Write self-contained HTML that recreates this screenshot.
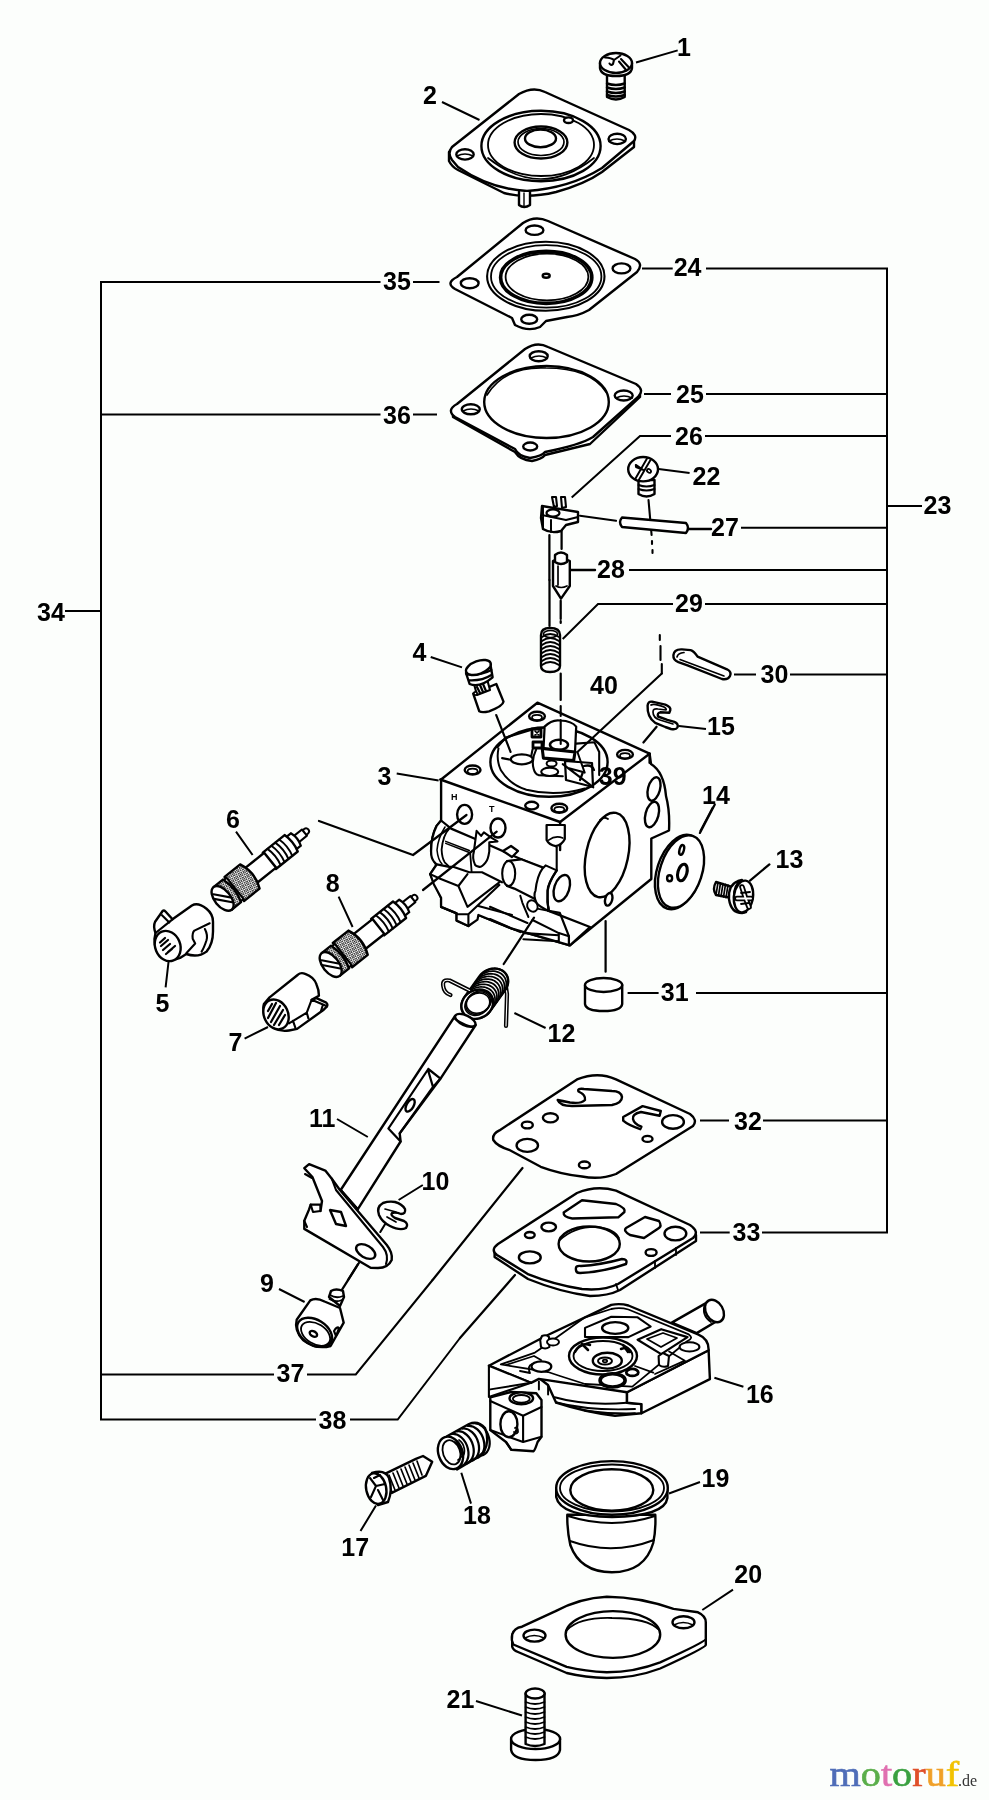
<!DOCTYPE html>
<html><head><meta charset="utf-8"><style>
html,body{margin:0;padding:0;background:#fcfefc;}
svg{display:block;}
svg{will-change:transform;}
.lb text{font-family:"Liberation Sans",sans-serif;font-weight:bold;font-size:25px;text-anchor:middle;fill:#000;}
</style></head><body>
<svg width="989" height="1800" viewBox="0 0 989 1800">
<g fill="none" stroke="#000" stroke-width="2" stroke-linecap="butt">
<!-- right bracket 23 -->
<path d="M706 268.5H887V1232.5H762 M922 506H887 M706 394H887 M705 436H887 M741 527.7H887 M629 570H887 M705 604H887 M790 674.4H887 M696 993H887 M763 1120.5H887"/>
<!-- left bracket 34 -->
<path d="M380.5 282H101V1419.5H316 M65 611H101 M101 414.4H380.5 M101 1374.4H274"/>
<!-- short lines near labels -->
<path d="M642 268.5H672.7 M644 394H671 M671 436H640L571.7 497.5 M580 570H594.5 M673 604H598L562.7 639 M734 674.4H756 M627.6 993H658.6 M700 1120.5H729 M700 1232.5H729.7 M413 282H439.5 M413 414.4H437 M307 1374.4H355.8L432.6 1280 M350 1419.5H397.7L460 1338"/>
<!-- leaders -->
<path d="M636 62.5L677.7 50.4 M442 102L479.5 120 M658.6 469L689.6 473 M679 726L706 729 M713 807L700 831.6 M714.4 1377.7L743.4 1386.8 M669 1493.5L700 1482 M360.5 1531L376 1505.6 M279 1289L304.6 1302 M430.7 657L462 667.4 M396.7 773.5L438.6 780.5 M236 831.6L252.6 855 M338.6 896.7L352.6 927 M165.6 987.4L168.8 959.5 M244.6 1038.6L268 1027 M514.4 1013L545.6 1028 M337 1119L367.8 1137 M398.6 1200L422.8 1185 M461.3 1472.8L471 1503.6 M476 1701L522 1715.5 M702.3 1610L733 1589.7"/>

</g>
<g stroke="#000" stroke-width="2.4" stroke-linejoin="round" stroke-linecap="round" fill="#fff">

<g>
<path d="M607 72V97Q616 102 624.7 97V72Z"/>
<path d="M607 83.5Q616 86.5 624.7 83.5M607 87.5Q616 90.5 624.7 87.5M607 91.5Q616 94.5 624.7 91.5M607 95Q616 98 624.7 95" fill="none"/>
<path d="M600 63V68Q601 76 616 76Q631 76 632 68V63Z"/>
<ellipse cx="616" cy="63" rx="16" ry="10"/>
<path d="M605 57.5Q612 58 614 60L620.5 55.5M614 60L613 64Q611 66 609.5 63.5M621 59L629 67.5M619 61.5L626.5 70.5" fill="none" stroke-width="2.10"/>
</g>

<g>
<path d="M449 152V161Q452 167 458 170L504 193Q527 199 556 192Q585 184 602 172L634 147V139Z"/>
<path d="M452 147L519 94Q533 86 545 92L629 130Q638 135 634 141L602 168Q570 188 527 191Q490 189 458 167L452 160Q447 153 452 147Z"/>
<ellipse cx="465" cy="154.4" rx="8.7" ry="5.2"/>
<path d="M457 156Q465 152 473 156" fill="none" stroke-width="1.68"/>
<ellipse cx="617.2" cy="138.9" rx="8.7" ry="5.2"/>
<path d="M609 141Q617 137 625 141" fill="none" stroke-width="1.68"/>
<ellipse cx="541" cy="146" rx="59.6" ry="35.2"/>
<ellipse cx="541" cy="145" rx="53" ry="31" fill="none" stroke-width="1.82"/>
<path d="M488 158Q541 200 594 158" fill="none" stroke-width="1.68"/>
<ellipse cx="541" cy="142.5" rx="26.4" ry="16"/>
<ellipse cx="541" cy="142" rx="23" ry="13.5" fill="none" stroke-width="1.68"/>
<ellipse cx="540.5" cy="138.4" rx="15.5" ry="8.8"/>
<ellipse cx="568.5" cy="120.2" rx="4.5" ry="2.8"/>
<path d="M519 192V205Q524 209 530 205V192" />
<path d="M524 193V207" fill="none" stroke-width="1.40"/>
</g>

<g>
<path d="M457 277L523 223Q535 215 548 221L635 259Q644 264 637 272L589 310Q578 316 567 317L546 321L540 327Q528 332 515 325L512 318L455 289Q445 283 457 277Z"/>
<ellipse cx="534.5" cy="230.2" rx="8.9" ry="4.7"/>
<ellipse cx="621.5" cy="268.4" rx="8.9" ry="5"/>
<ellipse cx="469.7" cy="283.2" rx="8.9" ry="5"/>
<ellipse cx="529.2" cy="319.3" rx="8" ry="4.5"/>
<ellipse cx="545.8" cy="276.3" rx="58.7" ry="34.5" stroke-width="2.10"/>
<ellipse cx="546.2" cy="276.4" rx="55.2" ry="31.3" stroke-width="1.82"/>
<ellipse cx="546.2" cy="277.4" rx="45.6" ry="26" stroke-width="3.64"/>
<ellipse cx="547" cy="277" rx="41.4" ry="23.4" stroke-width="1.82"/>
<ellipse cx="546.2" cy="275.8" rx="3.5" ry="2"/>
</g>

<g>
<path d="M453 411V417L515 452Q520 460 532 461Q542 459 545 455L590 444L640 397V390Z"/>
<path d="M457 404L525 349Q537 341 548 347L636 384Q645 390 638 397L593 437Q580 445 545 452Q542 456 530 458Q518 456 515 449L455 417Q446 410 457 404Z"/>
<ellipse cx="538.7" cy="356.2" rx="9" ry="5"/><path d="M531 358Q539 354 547 358" fill="none" stroke-width="1.68"/>
<ellipse cx="623.7" cy="395.5" rx="9" ry="5"/><path d="M616 398Q624 394 632 398" fill="none" stroke-width="1.68"/>
<ellipse cx="470.8" cy="409.3" rx="9" ry="5"/><path d="M463 411Q471 407 479 411" fill="none" stroke-width="1.68"/>
<ellipse cx="530.2" cy="446.5" rx="7" ry="4"/>
<ellipse cx="546.5" cy="402" rx="62.3" ry="36"/>
<path d="M487 395Q505 366 546 368Q590 368 606 392" fill="none" stroke-width="1.68"/>
</g>


<g>
<path d="M638.5 480V494Q646.5 499 654.5 494V480Z"/>
<path d="M638.5 485Q646.5 488 654.5 485M638.5 489Q646.5 492 654.5 489" fill="none" stroke-width="1.96"/>
<ellipse cx="643.1" cy="469.2" rx="14.9" ry="12.2"/>
<path d="M647 458.5L635.5 478.5M650.5 460L638.5 480.5M635.8 464.9L643 469.8L636 467Z" fill="none" stroke-width="1.96"/>
<ellipse cx="649" cy="470.9" rx="2.2" ry="1.6" transform="rotate(40 649 470.9)" stroke-width="1.82"/>
<path d="M648.5 500L651.6 535M652 541V544M652.5 550V553" fill="none" stroke-width="2.10"/>
</g>

<g>
<path d="M580 515.7L616 520.8" fill="none" stroke-width="2.10"/>
<path d="M622 517.5L686 523Q690 528 686 533L622 527Q618 522 622 517.5Z"/>
<path d="M688 529H711" fill="none"/>
</g>

<g>
<path d="M549.4 535V580M561.6 526.8V549" fill="none" stroke-width="2.24"/>
<path d="M552 497L556 497L557 506L554 507ZM561 497L565 497L566 507L562 508Z" stroke-width="2.10"/>
<path d="M542 506L578 512V522L566 525L561 531Q551 534 543 529L541 518Z"/>
<path d="M543 506V528M542 515L566 520L578 517M551 520V532" fill="none" stroke-width="1.96"/>
<ellipse cx="553" cy="513" rx="6.5" ry="3.6" stroke-width="2.24"/>

</g>

<g>
<path d="M553 561V586L561 598.6L569.8 586V561Q561 556 553 561Z"/>
<path d="M555 555Q561 550 567 555V562Q561 566 555 562Z"/>
<path d="M556 586Q561 589 567 586M558 566V585" fill="none" stroke-width="1.68"/>
<path d="M570.8 570H595" fill="none"/>
</g>

<path d="M560.7 600.7V618.9M560.7 621V623M560.7 673.5V700M549.5 580V626" fill="none" stroke-width="2.24"/>

<g>
<path d="M541 635Q541 628 550 628Q560 628 560 635V666Q560 672 550 672Q541 672 541 666Z"/>
<path d="M542 637Q550 631 559 637M542 641Q550 635 559 641M542 645Q550 639 559 645M542 649Q550 643 559 649M542 653Q550 647 559 653M542 657Q550 651 559 657M542 661Q550 655 559 661M542 665Q550 659 559 665" fill="none" stroke-width="1.82"/>
<ellipse cx="550.5" cy="634" rx="7" ry="3.5" fill="none" stroke-width="1.68"/>

</g>

<g>
<path d="M659.8 635V640M660.5 646V660M661.8 664V673.5" fill="none" stroke-width="2.10"/>
<path d="M673.4 655.2Q674 649 682 649.4L690.6 650.1Q694 651 697.6 656.7L727 669.3Q732 672 730 676Q728 680 722 679L687.5 665.3L678.4 662.2Q673 660 673.4 655.2Z"/>
<path d="M680 659.5L724 676M677 657Q678 653 684 652.5" fill="none" stroke-width="1.68"/>
</g>

<g>
<path d="M647.6 705.7Q648 701 652.1 701.7L665.3 704.7Q671 707 670.3 710L669.3 712.8L660.2 712.3Q657 713 658 716.5L667.3 719.9L674.4 721.9Q679 724 677.4 727.5Q676 730 671 729L665.3 727L655.2 722.9Q647 717 647.6 705.7Z"/>
<path d="M651 705Q654 703 664 707Q667 709 666 710L658 709Q653 708 653 712Q653 718 660 720L673 724" fill="none" stroke-width="1.68"/>
<path d="M656.6 726.8L643.4 742.5" fill="none" stroke-width="2.24"/>
</g>

<g>
<path d="M473.2 693.7L496.3 684L503.5 701.6Q503 706 489 711.3Q482 713 479.3 711.3Z"/>
<path d="M474 684L487 679L490 690L477 695Z" stroke-width="2.10"/>
<path d="M477 687L480 693M480 685L483 692M483 684L486 691" fill="none" stroke-width="2.24"/>
<circle cx="475.5" cy="693.5" r="1.6" stroke-width="1.68"/>
<path d="M466 673L469.6 684Q480 688 492.6 677.3L490.2 663.3Z"/>
<path d="M466.5 674.3Q480 676 491.4 670M469 680.3Q482 681 491.4 675" fill="none" stroke-width="2.24"/>
<ellipse cx="478.4" cy="667.5" rx="13" ry="6.5" transform="rotate(-20 478.4 667.5)"/>
</g>


<g>

<path d="M537.4 702.7L649.6 753.7L651 764Q664 772 666 796Q670 811 669 830.5L651.3 838.5V879L569.9 945.3L512 928.7L478.4 915L468.4 926L456.6 920.6V913.3L441.1 906.9V897.8L430.2 874.1L436.6 864.6Q431 855 431.1 851.4Q431 837 436.6 825.9L441.1 820.5V779.5Z"/>

<path d="M440.3 779.5L560.1 822L649.6 753.7" fill="none"/>
<path d="M560.1 822V850" fill="none"/>

<ellipse cx="537" cy="716.2" rx="7.9" ry="4.5"/><ellipse cx="537" cy="717.5" rx="5" ry="2.6" fill="none" stroke-width="1.68"/>
<ellipse cx="472.6" cy="770" rx="7.9" ry="4.5"/><ellipse cx="472.6" cy="771.3" rx="5" ry="2.6" fill="none" stroke-width="1.68"/>
<ellipse cx="625" cy="754.4" rx="7.9" ry="4.5"/><ellipse cx="625" cy="755.7" rx="5" ry="2.6" fill="none" stroke-width="1.68"/>
<ellipse cx="531.7" cy="805.6" rx="6.5" ry="3.8"/>
<ellipse cx="559.3" cy="808.2" rx="7.9" ry="4.5"/><ellipse cx="559.3" cy="809.5" rx="5" ry="2.6" fill="none" stroke-width="1.68"/>

<ellipse cx="549" cy="762" rx="58.6" ry="34.8"/>
<path d="M498.5 748.4Q496 760 500.9 770.3Q510 785 526.4 789.7Q555 797 584.7 788.5" fill="none" stroke-width="1.96"/>
<path d="M497.3 747.2L505.8 737.5L530 730.2M502.1 758.1L514.3 760.5L531.3 755.7L532.5 749.6" fill="none" stroke-width="2.10"/>
<ellipse cx="521.8" cy="759.3" rx="11" ry="5" stroke-width="2.24"/>
<path d="M543.4 750.8L544.6 726.6Q552 719 560.4 720.5Q572 721 576.2 726.6L575 752Z" stroke-width="2.24"/>
<ellipse cx="559" cy="744.8" rx="9" ry="5" stroke-width="2.52"/>
<path d="M536.1 749.6Q531 760 533.7 769Q535 774 538.5 775.1L562.8 776.3" fill="none" stroke-width="2.10"/>
<path d="M542.2 748.4L575 752L573.7 760.5L543.4 758.1Z" stroke-width="3.08"/>
<ellipse cx="549.7" cy="771.8" rx="8.5" ry="4.2" stroke-width="2.10"/>
<ellipse cx="551.6" cy="763.5" rx="5" ry="3" stroke-width="1.96"/>
<path d="M576.2 743.6L594.4 742.3L599.2 752V775.1" fill="none" stroke-width="2.10"/>
<path d="M565 761L592 763L593 787L566 780Z" stroke-width="2.24"/>
<path d="M562.8 764.2L593.2 787.2M568 768L583 772L580 780M584 766Q592 764 594 770" fill="none" stroke-width="2.24"/>
<path d="M577.4 752L584.7 772.7" fill="none" stroke-width="1.96"/>
<path d="M532 729H541V737H532ZM533 742H542V748H533Z" stroke-width="2.80"/>
<path d="M535 731L539 735M535 735L539 731" fill="none" stroke-width="1.68"/>

<text x="451" y="800" font-family="Liberation Sans" font-weight="bold" font-size="9" stroke="none" fill="#000">H</text>
<text x="489" y="812" font-family="Liberation Sans" font-weight="bold" font-size="9" stroke="none" fill="#000">T</text>
<ellipse cx="464.6" cy="814.4" rx="7.5" ry="9.5"/>
<ellipse cx="498" cy="828" rx="7.5" ry="9.5"/>


<ellipse cx="607.1" cy="855" rx="21" ry="43" transform="rotate(12 607.1 855)"/>
<path d="M600 820Q604 816 608 819" fill="none" stroke-width="1.82"/>
<ellipse cx="608.7" cy="899.3" rx="3.5" ry="6.5" transform="rotate(15 608.7 899.3)"/>
<ellipse cx="654" cy="789" rx="6" ry="12" transform="rotate(15 654 789)"/>
<ellipse cx="652" cy="814.5" rx="6.5" ry="13" transform="rotate(15 652 814.5)"/>
<path d="M649.6 753.7V762.8" fill="none"/>

<path d="M441.1 820.5L436.6 825.9Q431 837 431.1 851.4Q431 858 433.8 861.4L436.6 864.6L430.2 874.1L433.8 884.2L441.1 897.8V906.9L456.6 913.3V920.6L468.4 926L477.5 919.6L478.4 915L512 928.7L569.9 945.3L590 927L548.6 910.9L542.6 868.4L521.3 859.3L476.6 839.6L451.1 828.6Z" stroke-width="2.24"/>
<path d="M449.3 828.6Q443 835 441.6 849.6Q442 858 444.7 862.3L448.4 866" fill="none" stroke-width="1.82"/>
<path d="M445 827Q438 838 437 850Q438 860 442 864" fill="none" stroke-width="1.54"/>
<path d="M445.7 841.4L469.3 850.5M445.7 843.4L469.3 852.5" fill="none" stroke-width="1.54"/>
<path d="M435.6 864.1L449.3 866.9L453.8 866.9L469.3 872.3L482 872.3L502 882.3" fill="none" stroke-width="2.10"/>

<path d="M430.2 874.1L440.2 878.7L458.4 886L467.5 874.1M458.4 886L467.5 906.9L499.3 882.3M441.1 906.9L456.6 913.3M456.6 914.2L468.4 914.2L499.3 885M468.4 914.2V925M478.4 906L512 915" fill="none" stroke-width="2.10"/>

<path d="M507 861L521.3 859.3L542.6 867.4L548.6 910.9L534.5 898.8L514.3 888.6L507 886Z" stroke-width="2.24"/>
<ellipse cx="508.7" cy="873.5" rx="6.5" ry="12.5" stroke-width="2.10"/>

<path d="M476.6 830.9L481.1 835.9L483.9 832.3L491.2 837.7L497.5 841.4L489.3 842.3V851.4Q488 860 485.7 862.3Q482 867 479.3 866.9Q475 866 474.8 864.1Q472 858 473.9 851.4Z" stroke-width="2.10"/>
<path d="M470.2 853.2L471.6 871.4" fill="none" stroke-width="1.82"/>
<path d="M503 851L511 846L518 851L512 857Z" stroke-width="2.24"/>

<path d="M542.6 868.4L545.6 865.4L556.7 870.4Q547 885 547.6 890.7Q547 902 548.6 910.9Q538 906 536.5 902.8Q533 895 535.5 890.7Q537 876 542.6 868.4Z" stroke-width="2.10"/>
<path d="M556.7 870.4Q549 882 547.6 890.7Q547 902 548.6 910.9L559.8 912.9L568.9 936.2V945.3" fill="none" stroke-width="2.24"/>
<ellipse cx="561.8" cy="888.1" rx="7.5" ry="13.6" transform="rotate(18 561.8 888.1)"/>
<path d="M520.3 895.7L522.4 902.8L528.4 917M538.5 908.9L548.6 910.9" fill="none" stroke-width="1.96"/>
<ellipse cx="532.4" cy="906" rx="5" ry="6" transform="rotate(-30 532.4 906)" stroke-width="1.96"/>
<path d="M490 906.8L527.4 923M490 919L520.3 932.1M524.4 933.1L558.8 935.2M523.4 939.2L558.8 941.2M558.8 933V941.2M532.5 920L558.8 933.1L568.9 936.2" fill="none" stroke-width="2.10"/>

<path d="M546.6 825V840.1Q549 845 555.7 846.2Q562 845 564.8 839.1V825Z" stroke-width="2.24"/>
<path d="M548.6 840.1Q555.7 835 562.8 838.1" fill="none" stroke-width="1.68"/>
<path d="M556.7 847.2V870.4" fill="none" stroke-width="2.10"/>
</g>


<path d="M496.2 715L510.6 752" fill="none" stroke-width="2.10"/>
<path d="M661.8 673.5L577.4 752M560.7 706V716M560.7 720V744" fill="none" stroke-width="2.10"/>
<path d="M605.6 921V971.7" fill="none" stroke-width="2.24"/>

<g>
<ellipse cx="679" cy="872" rx="22" ry="38.5" transform="rotate(18 679 872)"/>
<ellipse cx="681" cy="871.5" rx="21" ry="37.5" transform="rotate(18 681 871.5)"/>
<ellipse cx="681.7" cy="849.9" rx="2.2" ry="5" transform="rotate(15 681.7 849.9)"/>
<ellipse cx="682.4" cy="872.5" rx="4.5" ry="8.5" transform="rotate(15 682.4 872.5)" stroke-width="3.08"/>
<ellipse cx="669.6" cy="878.2" rx="2.5" ry="3"/>
<path d="M714.8 804.6L699.9 832.9" fill="none" stroke-width="2.24"/>
</g>

<g>
<path d="M716 882L732 887L732 898L716 895Q712 889 716 882Z"/>
<path d="M718 882.5L716 895M720.5 883L718.5 895.5M723 883.7L721 896.3M725.5 884.3L723.5 897M728 885L726 897.6" fill="none" stroke-width="1.68"/>
<path d="M738 881Q728 885 729 899Q731 913 742 913L746 912Q735 910 734 897Q734 884 742 880Z"/>
<ellipse cx="743.5" cy="896.5" rx="9.5" ry="16" transform="rotate(8 743.5 896.5)"/>
<path d="M742 887L745.5 898L749 907M737 898.5H751" fill="none" stroke-width="5.60"/><path d="M742 887L745.5 898L749 907M737 898.5H751" fill="none" stroke="#fff" stroke-width="1.96"/><path d="M741 893L750 892M741 904L749 903" fill="none" stroke-width="1.82"/>
<path d="M750 880.6L769.4 864.4" fill="none" stroke-width="2.24"/>
</g>

<g>
<path d="M585 985V1004Q586 1011 603.6 1011Q621 1011 622.2 1004V985Z"/>
<ellipse cx="603.6" cy="985" rx="18.6" ry="7"/>
</g>

<defs>
<pattern id="knurl" width="2.6" height="2.6" patternUnits="userSpaceOnUse" patternTransform="rotate(20)">
<rect width="2.6" height="2.6" fill="#fff" stroke="none"/>
<path d="M0 0L2.6 2.6M2.6 0L0 2.6" stroke="#000" stroke-width="0.63"/>
</pattern>
<g id="needle">
<circle cx="107" cy="0" r="3" stroke-width="1.96"/>
<path d="M94 -4H105V4H94Z" stroke-width="2.10"/>
<path d="M86 -8H94Q97 0 94 8H86Z" stroke-width="2.24"/>
<path d="M60 -10.5H88Q91 0 88 10.5H60Z"/>
<path d="M66 -10.5Q69 0 66 10.5M71 -10.5Q74 0 71 10.5M76 -10.5Q79 0 76 10.5M81 -10.5Q84 0 81 10.5" fill="none" stroke-width="1.96"/>
<path d="M36 -9.5H61V9.5H36Z"/>
<path d="M15 -15.5H35Q42 0 35 15.5H15Z" fill="url(#knurl)"/>
<path d="M11 -13.5H16V13.5H11Z" stroke-width="2.10"/>
<path d="M0 -14.5H12Q17 0 12 14.5H0Z" fill="url(#knurl)"/>
<ellipse cx="0" cy="0" rx="8" ry="14.5"/>
<path d="M-7 -5L5 9M-4.5 -9L7.5 5" fill="none" stroke-width="2.10"/>
</g>
</defs>

<use href="#needle" transform="translate(222.6 898.4) rotate(-38.8)"/>
<path d="M319 821L413 855L466.5 815" fill="none" stroke-width="2.24"/>

<use href="#needle" transform="translate(330.7 964.5) rotate(-38.5)"/>
<path d="M423 890L496.7 831.6" fill="none" stroke-width="2.24"/>

<g>
<path d="M155.5 933Q153 926 155.1 921.7L162.8 910.8Q164 910 165.5 911.5L172.5 919.3L191.9 905.5Q198 902 206.5 908.8Q213 914 213 921.7V931.4Q213 944 206.5 951.6Q198 958 186.3 954L180 958Q170 962 160 955Q152 945 155.5 933Z"/>
<path d="M162 915.2L169.3 922.5M209.7 923.3L194.4 930.6Q192 933 192.7 938.7L195.2 943.5L186.3 953.3M204.9 929Q208 935 206.5 940.3Q204 948 201.6 951.6" fill="none" stroke-width="2.10"/>
<path d="M155.5 933L172.5 919.3" fill="none" stroke-width="2.24"/>
<ellipse cx="167.7" cy="946" rx="12.5" ry="15.5" transform="rotate(-22 167.7 946)"/>
<path d="M160 942.5L165 938M161 946L168 940M163 950L170 944M168 952L175 946M166 954L172 949" fill="none" stroke-width="2.24"/>
</g>

<g>
<path d="M269.6 997.4L297.9 974.7Q301 972 305.2 973.9Q314 977 316.5 984.4Q319 990 318.9 995.7L311.6 999.8L316.5 998.2L326.2 1002.6Q328 1004 327 1006.3L323 1010.3L297.1 1028.9L289 1030.5Q275 1033 266 1020Q262 1010 263.9 1004Z"/>
<path d="M311.6 999.8L323 1004.5L327 1006.3M323 1004.5L321 1011M311.6 999.8L306.8 1012.7L289 1023.3M306.8 1012.7L308.4 1018.4M293 1020.8L295.5 1028.1" fill="none" stroke-width="2.10"/>
<ellipse cx="276" cy="1014.4" rx="12" ry="15.5" transform="rotate(-25 276 1014.4)"/>
<path d="M268 1011L272 1004M268 1018L276 1003M271 1022L280 1006M274 1025L283 1010M279 1025L285 1015" fill="none" stroke-width="2.24"/>
</g>


<path d="M503.7 964L534 917.7" fill="none" stroke-width="2.24"/>

<g>
<path d="M505 980L507 994L506 1026" fill="none" stroke-width="4.20"/>
<path d="M505 980L507 994L506 1026" fill="none" stroke="#fff" stroke-width="1.12"/>
<path d="M461.4 1006.6 L461.4 1005.3 L461.6 1004.0 L461.9 1002.7 L462.2 1001.5 L462.8 1000.2 L463.4 999.0 L464.1 997.8 L479.1 976.8 L479.9 975.7 L480.8 974.6 L481.8 973.6 L482.9 972.7 L484.1 971.8 L485.3 971.1 L486.6 970.4 L487.9 969.8 L489.2 969.4 L490.6 969.0 L492.0 968.7 L493.4 968.6 L494.8 968.5 L496.1 968.6 L497.5 968.8 L498.7 969.1 L500.0 969.5 L501.2 970.0 L502.3 970.6 L503.3 971.3 L504.3 972.1 L505.2 973.0 L505.9 973.9 L506.6 975.0 L507.1 976.0 L507.6 977.2 L507.9 978.4 L508.1 979.6 L508.2 980.8 L508.2 982.1 L508.0 983.4 L507.7 984.7 L507.4 985.9 L506.8 987.2 L506.2 988.4 L505.5 989.6 L490.5 1010.6 L489.7 1011.7 L488.8 1012.8 L487.8 1013.8 L486.7 1014.7 L485.5 1015.6 L484.3 1016.3 L483.0 1017.0 L481.7 1017.6 L480.4 1018.0 L479.0 1018.4 L477.6 1018.7 L476.2 1018.8 L474.8 1018.9 L473.5 1018.8 L472.1 1018.6 L470.9 1018.3 L469.6 1017.9 L468.4 1017.4 L467.3 1016.8 L466.3 1016.1 L465.3 1015.3 L464.4 1014.4 L463.7 1013.5 L463.0 1012.5 L462.5 1011.4 L462.0 1010.2 L461.7 1009.0 L461.5 1007.8Z"/>
<path d="M480.6 974.8 L481.8 973.6 L483.2 972.5 L484.6 971.5 L486.1 970.7 L487.6 969.9 L489.2 969.4 L490.9 968.9 L492.6 968.7 L494.2 968.5 L495.9 968.6 L497.5 968.8 L499.0 969.2 L500.5 969.7 L501.9 970.3 L503.1 971.2 L504.3 972.1 L505.3 973.2 L506.2 974.3 L506.9 975.6 L507.5 976.9 L507.9 978.4 L508.1 979.8 L508.2 981.4 L508.1 982.9 L507.8 984.4 L507.4 985.9 L506.7 987.4 L506.0 988.9 L505.0 990.3 L504.0 991.6" fill="none" stroke-width="1.75"/>
<path d="M478.8 977.5 L480.0 976.2 L481.3 975.1 L482.7 974.1 L484.2 973.3 L485.7 972.6 L487.4 972.0 L489.0 971.5 L490.7 971.3 L492.3 971.2 L494.0 971.2 L495.6 971.4 L497.1 971.8 L498.6 972.3 L500.0 973.0 L501.3 973.8 L502.4 974.7 L503.4 975.8 L504.3 977.0 L505.1 978.2 L505.6 979.6 L506.0 981.0 L506.3 982.5 L506.3 984.0 L506.2 985.5 L505.9 987.0 L505.5 988.6 L504.9 990.1 L504.1 991.5 L503.1 992.9 L502.1 994.2" fill="none" stroke-width="1.75"/>
<path d="M476.9 980.1 L478.1 978.9 L479.4 977.8 L480.8 976.8 L482.3 975.9 L483.9 975.2 L485.5 974.6 L487.1 974.2 L488.8 973.9 L490.5 973.8 L492.1 973.8 L493.7 974.0 L495.2 974.4 L496.7 974.9 L498.1 975.6 L499.4 976.4 L500.5 977.3 L501.6 978.4 L502.5 979.6 L503.2 980.8 L503.8 982.2 L504.2 983.6 L504.4 985.1 L504.5 986.6 L504.3 988.1 L504.1 989.7 L503.6 991.2 L503.0 992.7 L502.2 994.1 L501.3 995.5 L500.2 996.8" fill="none" stroke-width="1.75"/>
<path d="M475.0 982.7 L476.2 981.5 L477.5 980.4 L478.9 979.4 L480.4 978.5 L482.0 977.8 L483.6 977.2 L485.3 976.8 L486.9 976.5 L488.6 976.4 L490.2 976.5 L491.8 976.7 L493.4 977.0 L494.8 977.6 L496.2 978.2 L497.5 979.0 L498.7 980.0 L499.7 981.0 L500.6 982.2 L501.3 983.5 L501.9 984.8 L502.3 986.2 L502.5 987.7 L502.6 989.2 L502.5 990.8 L502.2 992.3 L501.7 993.8 L501.1 995.3 L500.3 996.8 L499.4 998.1 L498.3 999.4" fill="none" stroke-width="1.75"/>
<path d="M473.1 985.3 L474.3 984.1 L475.7 983.0 L477.1 982.0 L478.6 981.2 L480.1 980.4 L481.7 979.9 L483.4 979.4 L485.1 979.2 L486.7 979.0 L488.4 979.1 L490.0 979.3 L491.5 979.7 L493.0 980.2 L494.4 980.8 L495.6 981.7 L496.8 982.6 L497.8 983.7 L498.7 984.8 L499.4 986.1 L500.0 987.4 L500.4 988.9 L500.6 990.3 L500.7 991.9 L500.6 993.4 L500.3 994.9 L499.9 996.4 L499.2 997.9 L498.5 999.4 L497.5 1000.8 L496.5 1002.1" fill="none" stroke-width="1.75"/>
<path d="M471.3 988.0 L472.5 986.7 L473.8 985.6 L475.2 984.6 L476.7 983.8 L478.2 983.1 L479.9 982.5 L481.5 982.0 L483.2 981.8 L484.8 981.7 L486.5 981.7 L488.1 981.9 L489.6 982.3 L491.1 982.8 L492.5 983.5 L493.8 984.3 L494.9 985.2 L495.9 986.3 L496.8 987.5 L497.6 988.7 L498.1 990.1 L498.5 991.5 L498.8 993.0 L498.8 994.5 L498.7 996.0 L498.4 997.5 L498.0 999.1 L497.4 1000.6 L496.6 1002.0 L495.6 1003.4 L494.6 1004.7" fill="none" stroke-width="1.75"/>
<path d="M469.4 990.6 L470.6 989.4 L471.9 988.3 L473.3 987.3 L474.8 986.4 L476.4 985.7 L478.0 985.1 L479.6 984.7 L481.3 984.4 L483.0 984.3 L484.6 984.3 L486.2 984.5 L487.7 984.9 L489.2 985.4 L490.6 986.1 L491.9 986.9 L493.0 987.8 L494.1 988.9 L495.0 990.1 L495.7 991.3 L496.3 992.7 L496.7 994.1 L496.9 995.6 L497.0 997.1 L496.8 998.6 L496.6 1000.2 L496.1 1001.7 L495.5 1003.2 L494.7 1004.6 L493.8 1006.0 L492.7 1007.3" fill="none" stroke-width="1.75"/>
<path d="M467.5 993.2 L468.7 992.0 L470.0 990.9 L471.4 989.9 L472.9 989.0 L474.5 988.3 L476.1 987.7 L477.8 987.3 L479.4 987.0 L481.1 986.9 L482.7 987.0 L484.3 987.2 L485.9 987.5 L487.3 988.1 L488.7 988.7 L490.0 989.5 L491.2 990.5 L492.2 991.5 L493.1 992.7 L493.8 994.0 L494.4 995.3 L494.8 996.7 L495.0 998.2 L495.1 999.7 L495.0 1001.3 L494.7 1002.8 L494.2 1004.3 L493.6 1005.8 L492.8 1007.3 L491.9 1008.6 L490.8 1009.9" fill="none" stroke-width="1.75"/>
<ellipse cx="477.3" cy="1004.2" rx="16.5" ry="14" transform="rotate(-30 477.3 1004.2)"/>
<ellipse cx="477.3" cy="1004.2" rx="13.0" ry="10.5" transform="rotate(-30 477.3 1004.2)" fill="none" stroke-width="1.54"/>
<ellipse cx="478.1" cy="1003.1" rx="13.0" ry="10.5" transform="rotate(-30 478.1 1003.1)" fill="none" stroke-width="1.54"/>
<ellipse cx="478.9" cy="1002.0" rx="13.0" ry="10.5" transform="rotate(-30 478.9 1002.0)" fill="none" stroke-width="1.54"/>
<path d="M469.6 990.5L449.6 980.5Q442 979 443.2 986Q444 993 450.5 995" fill="none" stroke-width="4.20"/>
<path d="M469.6 990.5L449.6 980.5Q442 979 443.2 986Q444 993 450.5 995" fill="none" stroke="#fff" stroke-width="1.12"/>
</g>

<g>
<path d="M455 1016L340.7 1190L357.7 1209.4L400.6 1141.5L399.7 1133.4L440.5 1078.6L475.7 1025Z"/>
<ellipse cx="465.3" cy="1020.4" rx="11" ry="5" transform="rotate(25 465.3 1020.4)"/>
<path d="M455 1019Q466 1026 474 1027" fill="none" stroke-width="1.82"/>
<path d="M428.3 1069L440.5 1078.6L433 1087L428 1070ZM428.3 1069L388.4 1128.5L400.6 1141.5M433 1087L399.7 1133.4" fill="none" stroke-width="2.24"/>
<ellipse cx="410.1" cy="1105.3" rx="3.5" ry="7" transform="rotate(30 410.1 1105.3)"/>
</g>

<g>
<path d="M304.3 1168.2L309.1 1164.1L325.3 1170.6L331.8 1178.7L339.9 1190L386.8 1245Q393 1253 391.7 1260Q388 1268 378 1268L370.6 1267.7L304.3 1228.9V1220.8L309.1 1209.4L310.7 1204.6L320.5 1204.6L320.5 1211L322 1201L312.4 1177Z"/>
<path d="M305 1174L312 1178M331.8 1178.7L336 1190L383 1247Q389 1255 386 1264M304.3 1221L307 1227M310.7 1204.6L313 1212L320.5 1211" fill="none" stroke-width="2.10"/>
<path d="M330 1210L341 1212L346 1226L336 1224Z"/>
<ellipse cx="365.7" cy="1251.5" rx="10.5" ry="6" transform="rotate(30 365.7 1251.5)"/>
<path d="M340.7 1190L357.7 1209.4" fill="none"/>
<path d="M357.7 1264.5L348 1280" fill="none" stroke-width="2.24"/>
</g>

<g>
<path d="M383 1203Q376 1207 379 1215Q382 1222 390 1226Q400 1231 406 1228Q409 1224 404 1221L395 1218Q390 1215 392 1213Q396 1212 401 1214Q406 1214 405 1209Q402 1204 395 1202Q389 1201 383 1203Z"/>
<path d="M385 1209L396 1212M387 1217L396 1222" fill="none" stroke-width="1.68"/>
<path d="M385.2 1224L380.3 1232" fill="none" stroke-width="2.10"/>
</g>

<g>
<path d="M329 1297L331 1291Q336 1288 343 1291L344 1297L340 1306Z" />
<path d="M330 1295Q336 1299 343 1296M329.5 1299Q335 1303 342 1300" fill="none" stroke-width="1.82"/>
<path d="M296.7 1319.7L310.3 1300.4Q316 1297 324.5 1301.5L340 1308L343.7 1322.7L330.6 1346Q316 1350 303 1340Q294 1330 296.7 1319.7Z"/>
<ellipse cx="314.6" cy="1332.3" rx="19" ry="12.5" transform="rotate(32 314.6 1332.3)"/>
<ellipse cx="315.6" cy="1333.8" rx="16" ry="10" transform="rotate(32 315.6 1333.8)" fill="none" stroke-width="1.82"/>
<ellipse cx="313.4" cy="1333.8" rx="4" ry="2.5" transform="rotate(30 313.4 1333.8)"/>
<path d="M334 1331Q337 1326 339 1328L336 1336Z" stroke-width="2.10"/>
<path d="M342.2 1289.3L358.9 1263" fill="none" stroke-width="2.24"/>
</g>


<path d="M432.6 1280L522.5 1168M460 1338L515 1275" fill="none" stroke-width="2.24"/>

<g>
<path d="M499.4 1130.4L577 1079.4Q598 1071 616 1079.4L690 1114Q698 1120 693 1126L616 1174Q600 1180 582 1176.5Q560 1174 540.7 1166.8L509 1149.8Q497 1146 493.3 1140Q492 1134 499.4 1130.4Z"/>
<ellipse cx="527.3" cy="1145.4" rx="10.7" ry="6.5"/>
<ellipse cx="527.3" cy="1125" rx="5.5" ry="3.4"/>
<ellipse cx="550.4" cy="1117.8" rx="7.5" ry="4.6"/>
<ellipse cx="673" cy="1121.9" rx="10.9" ry="6.8"/>
<ellipse cx="647.5" cy="1138.9" rx="5" ry="3"/>
<ellipse cx="584.4" cy="1164.9" rx="5.5" ry="3.4"/>
<path d="M557.7 1100Q560 1106 572 1106L612 1105Q622 1103 622 1097Q621 1091 612 1091L584 1089Q577 1088 578.5 1091.5Q586 1095 585 1100Q581 1104 570 1102.5Q562 1101 557.7 1100Z"/>
<path d="M623.2 1117L642.6 1106.1L660.8 1111L659.6 1115.8L641 1112Q632 1114 633 1119Q634 1124 641.4 1126.7L640.2 1129.2Q628 1125 623.2 1120.7Z"/>
</g>

<g>
<path d="M494.6 1251V1257L528 1279Q560 1292 590 1296Q608 1296 620 1290L696 1241V1235Z"/>
<path d="M498 1244L577 1193Q596 1185 616 1190.6L690 1225Q700 1232 693 1238L618 1284Q604 1291 582 1289Q555 1285 528.5 1274.4L497 1255Q490 1250 498 1244Z"/>
<path d="M616 1284L618 1290M655 1261V1268M676 1248V1255" fill="none" stroke-width="1.82"/>
<ellipse cx="589.2" cy="1244" rx="30.6" ry="17.5"/>
<path d="M560 1240Q575 1226 598 1227Q615 1229 619 1238" fill="none" stroke-width="1.68"/>
<ellipse cx="529.8" cy="1257.4" rx="10.9" ry="6"/>
<ellipse cx="529.8" cy="1235" rx="4.9" ry="3"/>
<ellipse cx="548.7" cy="1227" rx="7.3" ry="4.4"/>
<ellipse cx="675.4" cy="1233.6" rx="10.9" ry="6.8"/>
<ellipse cx="651.1" cy="1252.5" rx="5.5" ry="3.4"/>
<path d="M563.7 1212.5L582 1200.3L616 1204Q626 1208 624.4 1212L618.3 1217.3L572.2 1218.5Q563 1217 563.7 1212.5Z"/>
<path d="M626 1228L645 1217L659 1221Q662 1226 659 1228L644 1238L630 1235Q623 1231 626 1228Z"/>
<path d="M576 1270Q575 1265 581 1266Q600 1265 622 1259Q628 1259 626 1264Q604 1272 580 1273Q576 1273 576 1270Z"/>
</g>

<g>

<path d="M671.8 1322.6L708.6 1301.6L722 1318L696.7 1333.1Z"/>
<ellipse cx="714.5" cy="1311" rx="8.5" ry="12" transform="rotate(-30 714.5 1311)"/>
<path d="M705 1304Q701 1315 711 1322" fill="none" stroke-width="1.82"/>

<path d="M538.9 1378L548 1385L556 1402.5Q585 1412 615 1415.7L641.5 1413.3V1404L627 1402.8V1390Z"/>
<path d="M554.7 1397.3Q585 1406 627 1402.8M556 1402.5Q590 1411 635 1409M585 1410.7Q610 1414 635 1413.3M538.9 1381.5V1389.4M548.1 1385.4V1394.6" fill="none" stroke-width="1.96"/>

<path d="M627 1392.3L708.6 1350.2L709.9 1379.1L641.5 1413.3V1404.1L627 1402.8Z"/>

<path d="M488.9 1365.7L546.8 1335.5L611.3 1304.9Q620 1303 628.4 1305.5L698 1334.4Q709 1339 708.6 1350.2L627 1392.3L538.9 1378.9L531 1382.8Z"/>

<path d="M488.9 1365.7V1397L531 1382.8Z" stroke-width="2.10"/>
<path d="M490.3 1389.4L531 1382.8" fill="none" stroke-width="1.96"/>

<path d="M500.8 1364.4L535 1352.6L546 1345L585 1317.3L611.3 1309Q620 1307 628.4 1309.5L688.8 1334.4Q694 1338 687.5 1341L632.3 1386.6L585 1384L560 1376L548 1372Z" fill="none" stroke-width="1.82"/>
<path d="M506 1365L534 1356L541 1360M520 1371L530 1373Q527 1366 532 1364" fill="none" stroke-width="1.82"/>
<ellipse cx="541.4" cy="1366.6" rx="9.9" ry="5.3" stroke-width="2.24"/>
<path d="M540.2 1340L542 1336Q546 1334 549 1337L549.4 1347Q545 1350 541 1347Z" stroke-width="2.10"/>
<ellipse cx="553" cy="1342" rx="6" ry="3.5" stroke-width="1.96"/>

<path d="M585 1327.9L611.3 1316.7L637.6 1317.3L650.7 1326.5L628.4 1337.1L585 1337Z" fill="none" stroke-width="2.10"/>
<ellipse cx="615.2" cy="1328" rx="13.1" ry="5.9"/>

<path d="M637.6 1339.7L661.2 1329.2L687.5 1337.1L661.2 1354.1Z" stroke-width="2.24"/>
<path d="M647 1339L663 1333L677 1338L661 1347Z" fill="none" stroke-width="1.82"/>
<ellipse cx="689.5" cy="1346.9" rx="9.9" ry="4.6" stroke-width="2.10"/>
<path d="M658.6 1356L663 1353L669 1356L668 1366Q663 1368 659 1365Z" stroke-width="2.10"/>
<path d="M669.1 1351.5L684.9 1360.7L655 1374M635 1366L653.3 1372.6" fill="none" stroke-width="1.82"/>

<ellipse cx="603" cy="1356" rx="34" ry="18.5"/>
<ellipse cx="603" cy="1356" rx="29.5" ry="15" fill="none" stroke-width="1.82"/>
<ellipse cx="607.3" cy="1360.7" rx="14.5" ry="7.9"/>
<ellipse cx="605" cy="1361" rx="7" ry="3.6" stroke-width="1.96"/>
<ellipse cx="605" cy="1361" rx="2.2" ry="1.3" stroke-width="1.68"/>
<path d="M575 1352Q580 1342 590 1345M621 1349Q628 1346 630 1352M582 1344L588 1350M623 1345L628 1352" fill="none" stroke-width="2.52"/>
<ellipse cx="612.6" cy="1380.4" rx="12.5" ry="6.6" stroke-width="3.64"/>
<ellipse cx="632.3" cy="1372.4" rx="6" ry="3.5" stroke-width="2.80"/>

<path d="M490.3 1397.3L511.3 1392L536.3 1393.3L541.5 1400V1436.7L537.6 1442Q535 1450 533.6 1451.2L511.3 1449.8L506 1442L490.3 1430.1Z"/>
<path d="M490.3 1401L523.1 1415.7L541.5 1407M523.1 1415.7V1442M490.3 1430.1L523.1 1442L541.5 1436.7M506 1442L511.3 1449.8" fill="none" stroke-width="2.10"/>
<ellipse cx="521.3" cy="1398.3" rx="11.8" ry="5.9"/>
<ellipse cx="521.3" cy="1398.8" rx="8.5" ry="3.8" fill="none" stroke-width="1.82"/>
<ellipse cx="508.9" cy="1424.2" rx="8.5" ry="13"/>
<path d="M515 1428Q518 1426 518 1432Q516 1435 514 1432" fill="none" stroke-width="1.82"/>
</g>

<g>
<path d="M447 1436.2L469 1424Q478 1420 485 1428Q490 1440 484 1452L478 1457L457 1469.5Z"/>
<path d="M473.0 1423.2A12 16.7 -20 0 1 481.0 1455.6" fill="none" stroke-width="2.24"/>
<path d="M467.7 1425.9A12 16.7 -20 0 1 475.7 1458.3" fill="none" stroke-width="2.24"/>
<path d="M462.4 1428.6A12 16.7 -20 0 1 470.4 1461.0" fill="none" stroke-width="2.24"/>
<path d="M457.1 1431.3A12 16.7 -20 0 1 465.1 1463.7" fill="none" stroke-width="2.24"/>
<path d="M451.8 1434.0A12 16.7 -20 0 1 459.8 1466.4" fill="none" stroke-width="2.24"/>
<ellipse cx="450.5" cy="1452.9" rx="12" ry="16.7" transform="rotate(-20 450.5 1452.9)"/>
<ellipse cx="451.5" cy="1452.3" rx="8.5" ry="12.5" transform="rotate(-20 451.5 1452.3)" fill="none" stroke-width="1.82"/>
<path d="M455 1442A7 10 -20 0 1 458 1460M459 1440A7 10 -20 0 1 462 1457" fill="none" stroke-width="1.68"/>
</g>

<g>
<path d="M385.4 1473.7L415.9 1458.9L423 1456L432.2 1461.7L425.8 1475.9L391.8 1492.9Z"/>
<path d="M389 1475L395 1490M393 1473L399 1488M397 1471L403 1486M401 1469L407 1484M405 1467L411 1482M409 1465L415 1480M413 1463L419 1478M417 1461L422 1475" fill="none" stroke-width="1.68"/>
<path d="M372 1473Q385 1469 389 1478Q393 1490 388 1502L378 1505Q368 1496 372 1473Z"/>
<ellipse cx="376.2" cy="1488.6" rx="10" ry="15.5" transform="rotate(-12 376.2 1488.6)"/>
<path d="M370 1478L376 1486L371 1497M376 1486L385 1484M378 1490L383 1500M374 1478L380 1475" fill="none" stroke-width="2.10"/>
</g>

<g>
<path d="M567.3 1514.7Q567 1530 570.3 1545Q580 1572 611.8 1572.3Q645 1572 653.2 1543Q656 1530 655.3 1514.7Z"/>
<path d="M570 1541Q612 1556 654 1540M568 1516Q612 1530 655 1516" fill="none" stroke-width="1.96"/>
<path d="M556.2 1488V1497Q560 1516 612 1517Q665 1516 667.4 1498V1490Z"/>
<ellipse cx="612" cy="1487.9" rx="55.8" ry="26.8"/>
<ellipse cx="612" cy="1488" rx="52" ry="23.5" fill="none" stroke-width="1.82"/>
<ellipse cx="611.8" cy="1490" rx="41.5" ry="20.7"/>
</g>

<g>
<path d="M512.2 1634.5V1646.7Q513 1650 518 1652L566.7 1673Q585 1677.5 606.8 1678Q635 1678 660.2 1668.5Q705 1648 705.8 1645V1635Z"/>
<path d="M512.2 1634.5Q514 1628 522 1626.7L555.6 1611.1Q580 1598 606.8 1596.7Q640 1597 673.5 1608.9L698 1612.3Q706 1616 705.8 1622.3V1639Q705 1642 660.2 1662.3Q635 1672 606.8 1672.3Q585 1671 566.7 1666.8L513.3 1644.5Q511 1640 512.2 1634.5Z"/>
<ellipse cx="534.5" cy="1635.6" rx="11" ry="6"/>
<path d="M525 1638Q534 1633 544 1638" fill="none" stroke-width="1.68"/>
<ellipse cx="683.5" cy="1622.3" rx="11" ry="6"/>
<path d="M674 1625Q683 1620 693 1625" fill="none" stroke-width="1.68"/>
<ellipse cx="612.9" cy="1634.5" rx="47.3" ry="23.4"/>
<path d="M567 1630Q580 1617 612 1618Q648 1618 659 1630" fill="none" stroke-width="1.82"/>
</g>

<g>
<path d="M511.1 1739V1750Q513 1760 535.6 1760Q558 1760 560 1750V1739Z"/>
<ellipse cx="535.6" cy="1739" rx="24.5" ry="10"/>
<path d="M525.6 1693.5V1744Q535 1748 544.5 1744V1693.5Z"/>
<ellipse cx="535.1" cy="1693.5" rx="9.5" ry="5"/>
<path d="M525.6 1702Q535 1706 544.5 1702M525.6 1707Q535 1711 544.5 1707M525.6 1712Q535 1716 544.5 1712M525.6 1717Q535 1721 544.5 1717M525.6 1722Q535 1726 544.5 1722M525.6 1727Q535 1731 544.5 1727M525.6 1732Q535 1736 544.5 1732M525.6 1737Q535 1741 544.5 1737" fill="none" stroke-width="1.82"/>
</g>

</g>
<g class="lb">
<text x="684.0" y="56.0">1</text>
<text x="430.0" y="104.0">2</text>
<text x="384.5" y="785.0">3</text>
<text x="419.5" y="661.0">4</text>
<text x="162.5" y="1012.0">5</text>
<text x="233.0" y="828.4">6</text>
<text x="235.5" y="1051.0">7</text>
<text x="332.6" y="892.0">8</text>
<text x="267.0" y="1291.8">9</text>
<text x="435.4" y="1189.5">10</text>
<text x="322.1" y="1126.7">11</text>
<text x="561.5" y="1042.0">12</text>
<text x="789.4" y="867.5">13</text>
<text x="716.0" y="804.0">14</text>
<text x="721.0" y="735.0">15</text>
<text x="759.8" y="1402.5">16</text>
<text x="355.2" y="1555.5">17</text>
<text x="476.9" y="1524.0">18</text>
<text x="715.5" y="1487.0">19</text>
<text x="748.2" y="1582.5">20</text>
<text x="460.5" y="1708.0">21</text>
<text x="706.5" y="485.0">22</text>
<text x="937.5" y="514.0">23</text>
<text x="687.6" y="276.1">24</text>
<text x="690.0" y="403.0">25</text>
<text x="689.0" y="445.0">26</text>
<text x="725.0" y="536.0">27</text>
<text x="611.0" y="578.0">28</text>
<text x="689.0" y="612.0">29</text>
<text x="774.5" y="683.0">30</text>
<text x="674.7" y="1001.0">31</text>
<text x="747.9" y="1129.6">32</text>
<text x="746.4" y="1241.0">33</text>
<text x="51.0" y="621.0">34</text>
<text x="396.9" y="290.0">35</text>
<text x="396.9" y="424.0">36</text>
<text x="290.5" y="1382.0">37</text>
<text x="332.5" y="1429.0">38</text>
<text x="612.7" y="784.8">39</text>
<text x="604.0" y="693.8">40</text>
</g>
<g font-family="Liberation Serif">
<text transform="translate(829.5 1785.5) scale(1.15 1)" font-size="35" stroke-width="0.6"><tspan fill="#4f6db8" stroke="#4f6db8">m</tspan><tspan fill="#5aae4a" stroke="#5aae4a">o</tspan><tspan fill="#e070b0" stroke="#e070b0">t</tspan><tspan fill="#3aa040" stroke="#3aa040">o</tspan><tspan fill="#e0502a" stroke="#e0502a">r</tspan><tspan fill="#f0a028" stroke="#f0a028">u</tspan><tspan fill="#f2c200" stroke="#f2c200">f</tspan></text>
<text x="958" y="1785.5" font-size="16" fill="#333">.de</text>
</g>
</svg>
</body></html>
